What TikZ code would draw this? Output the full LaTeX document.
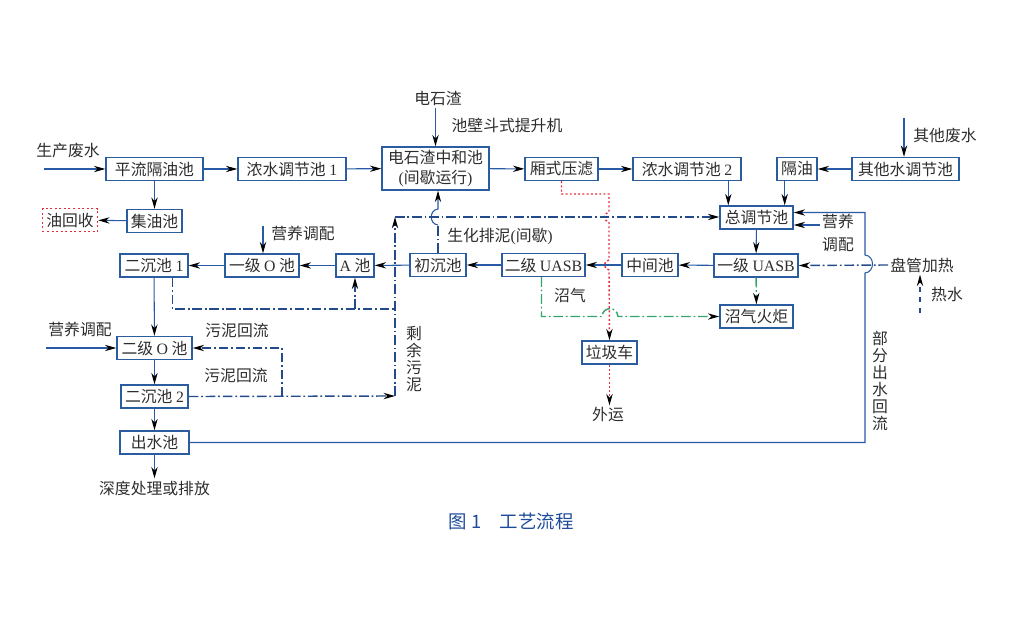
\documentclass[tikz,border=0pt]{standalone}
\usepackage{fontspec}
\setmainfont{Noto Sans CJK SC}
\newfontfamily\latin{Liberation Serif}
\usetikzlibrary{arrows.meta}

\definecolor{boxblue}{RGB}{43,92,160}
\definecolor{lineblue}{RGB}{40,90,165}
\definecolor{sludgeblue}{RGB}{35,75,140}
\definecolor{gasgreen}{RGB}{50,165,110}
\definecolor{dregred}{RGB}{228,45,60}
\definecolor{txtgray}{RGB}{45,45,45}
\definecolor{capblue}{RGB}{30,75,155}

\begin{document}
\begin{tikzpicture}[x=0.02cm,y=-0.02cm,->,>={Stealth[length=6.5pt,width=3.6pt,color=black]},
  semithick,lineblue,font=\fontsize{9}{11}\selectfont]
  \tikzstyle{box}=[draw=boxblue,line width=0.8pt,text=txtgray,inner xsep=1pt,inner ysep=1pt,minimum height=0.46cm]
  \tikzstyle{lbl}=[text=txtgray,inner sep=1pt]
  \tikzstyle{vlbl}=[lbl,align=center,font=\fontsize{9}{9.6}\selectfont]
  \tikzstyle{sludge}=[sludgeblue,line width=0.8pt,dash pattern=on 5.5pt off 1.6pt on 1pt off 1.6pt]
  \tikzstyle{gas}=[gasgreen,line width=0.8pt,dash pattern=on 5.5pt off 1.6pt on 1pt off 1.6pt]
  \tikzstyle{dreg}=[dregred,line width=0.8pt,dash pattern=on 1.1pt off 1.3pt]

  \useasboundingbox (0,0) rectangle (1024,625);

  % top row
  \node[box,minimum width=1.94cm] (pingliu)   at (154.5,169) {平流隔油池};
  \node[box,minimum width=2.16cm] (nongshui1) at (292,169)   {浓水调节池 {\latin 1}};
  \node[box,minimum width=2.14cm,minimum height=0.86cm,align=center] (zhonghe) at (435.5,168.5)
    {电石渣中和池\\{\latin(}间歇运行{\latin)}};
  \node[box,minimum width=1.46cm] (yalv)      at (561.5,169) {厢式压滤};
  \node[box,minimum width=2.16cm] (nongshui2) at (687,169)   {浓水调节池 {\latin 2}};
  \node[box,minimum width=0.80cm] (geyou)     at (797,169)   {隔油};
  \node[box,minimum width=2.14cm] (qita)      at (905.5,169) {其他水调节池};
  \node[box,minimum width=1.10cm] (jiyou)     at (154.5,221) {集油池};
  \node[box,minimum width=1.10cm,draw=dregred,dash pattern=on 1.1pt off 1.5pt] (youhui) at (70,220) {油回收};

  % middle row
  \node[box,minimum width=1.46cm] (zongtiao)  at (756.5,217.5) {总调节池};
  \node[box,minimum width=1.68cm] (uasb1)     at (756,265.5) {一级 {\latin UASB}};
  \node[box,minimum width=1.46cm] (zhaoqi)    at (756.5,316.5) {沼气火炬};
  \node[box,minimum width=1.12cm] (zhongjian) at (650,265)   {中间池};
  \node[box,minimum width=1.66cm] (uasb2)     at (543.5,265) {二级 {\latin UASB}};
  \node[box,minimum width=1.12cm] (chuchen)   at (438,265)   {初沉池};
  \node[box,minimum width=0.76cm] (Achi)      at (355,265.5) {{\latin A} 池};
  \node[box,minimum width=1.48cm] (yijiO)     at (262,265.5) {一级 {\latin O} 池};
  \node[box,minimum width=1.36cm] (erchen1)   at (154,265.5) {二沉池 {\latin 1}};
  \node[box,minimum width=1.10cm] (laji)      at (609.5,352.5) {垃圾车};

  % left column
  \node[box,minimum width=1.50cm] (erjiO)     at (154.5,348) {二级 {\latin O} 池};
  \node[box,minimum width=1.34cm] (erchen2)   at (154.5,396.5) {二沉池 {\latin 2}};
  \node[box,minimum width=1.38cm] (chushui)   at (154.5,442.5) {出水池};

  % labels
  \node[lbl] (shengchan) at (68,151)  {生产废水};
  \node[lbl] (dianshi)   at (438,98)  {电石渣};
  \node[lbl] (tisheng)   at (507,125) {池壁斗式提升机};
  \node[lbl] (qitalbl)   at (945,136) {其他废水};
  \node[lbl] (yingyang1) at (303,233.5) {营养调配};
  \node[lbl,align=center,font=\fontsize{9}{13}\selectfont] (yingyang2) at (838,233) {营养\\调配};
  \node[lbl] (yingyang3) at (80,329)  {营养调配};
  \node[lbl] (shenghua)  at (500,237) {生化排泥{\latin(}间歇{\latin)}};
  \node[lbl] (panguan)   at (922,265) {盘管加热};
  \node[lbl] (reshuilbl) at (947,295) {热水};
  \node[lbl] (zhaoqilbl) at (570,295) {沼气};
  \node[lbl] (huiliu1)   at (237,330) {污泥回流};
  \node[lbl] (huiliu2)   at (236,375) {污泥回流};
  \node[vlbl] (shengyu)  at (414,359) {剩\\余\\污\\泥};
  \node[vlbl] (bufen)    at (880,381) {部\\分\\出\\水\\回\\流};
  \node[lbl] (waiyun)    at (608,415) {外运};
  \node[lbl] (shendu)    at (154.5,488) {深度处理或排放};
  \node[text=capblue,font=\fontsize{10.5}{12}\selectfont] (caption) at (511,521) {图 1\hspace{1em}工艺流程};

  \coordinate (shengin) at (44,169);
  \coordinate (qitain)  at (904,118);
  \coordinate (yy1)     at (263,226);
  \coordinate (yy3)     at (46,348);
  \coordinate (reshui)  at (920,313);
  \coordinate (zt1) at ([xshift=0.18cm]zongtiao.north west);
  \coordinate (zt2) at ([xshift=-0.18cm]zongtiao.north east);
  \coordinate (zt3) at ([yshift=-0.15cm]zongtiao.east);
  \coordinate (zt4) at ([yshift=0.1cm]zongtiao.east);
  \coordinate (sy1) at (395,396);
  \coordinate (sy2) at (395,217);

  % main water flow
  \path (pingliu) edge (nongshui1)
        (nongshui1) edge (zhonghe)
        (zhonghe) edge (yalv)
        (yalv) edge (nongshui2)
        (qita) edge (geyou)
        (pingliu) edge (jiyou)
        (jiyou) edge (youhui)
        (zongtiao) edge (uasb1)
        (uasb1) edge (zhongjian)
        (zhongjian) edge (uasb2)
        (uasb2) edge (chuchen)
        (chuchen) edge (Achi)
        (Achi) edge (yijiO)
        (yijiO) edge (erchen1)
        (erchen1) edge (erjiO)
        (erjiO) edge (erchen2)
        (erchen2) edge (chushui)
        (chushui) edge (shendu);

  \draw (shengin) -- (pingliu);
  \draw (dianshi.south -| zhonghe.north) -- (zhonghe.north);
  \draw (qitain) -- (qitain |- qita.north);
  \draw (zt1 |- nongshui2.south) -- (zt1);
  \draw (zt2 |- geyou.south) -- (zt2);
  \draw (yy1) -- (yy1 |- yijiO.north);
  \draw (zt3 -| yingyang2.west) -- (zt3);
  \draw (yy3) -- (yy3 -| erjiO.west);

  % partial effluent return
  \draw (chushui.east) -| (865,273) .. controls (875,272) and (875,256) .. (865,255) -- (865,212.5) -- (zt4);

  % heating
  \draw[sludge] (panguan.west) -- (uasb1.east);
  \draw[sludgeblue,dashed] (reshui) -- (reshui |- panguan.south);

  % biogas
  \draw[gas] (uasb1) -- (zhaoqi);
  \draw[gas] ([xshift=-0.04cm]uasb2.south) |- (602,316.5)
    .. controls (603,306) and (617,306) .. (618,316.5) -- (zhaoqi.west);

  % filter cake
  \draw[dreg] (yalv.south) |- (609,194) -- (609,212) .. controls (603,213) and (603,221) .. (609,222)
    -- (609,260) .. controls (603,261) and (603,269) .. (609,270) -- (laji.north);
  \draw[dreg] (laji.south) -- (laji.south |- waiyun.north);

  % sludge
  \draw[sludge,-] (chuchen.north) -- (438,225);
  \draw (438,225) .. controls (429,224) and (429,210) .. (438,209) -- (zhonghe.south -| 438,0);
  \draw[sludge] (sy1) -- (sy2);
  \draw[sludge] (sy2) -- (sy2 -| zongtiao.west);
  \draw[sludge,-] ([xshift=0.37cm]erchen1.south) |- (395,309);
  \draw[sludge] (Achi.south |- 0,309) -- (Achi.south);
  \draw[sludge] (erchen2.east) -- (sy1);
  \draw[sludge] (282,396.5) |- (erjiO.east);
\end{tikzpicture}
\end{document}
